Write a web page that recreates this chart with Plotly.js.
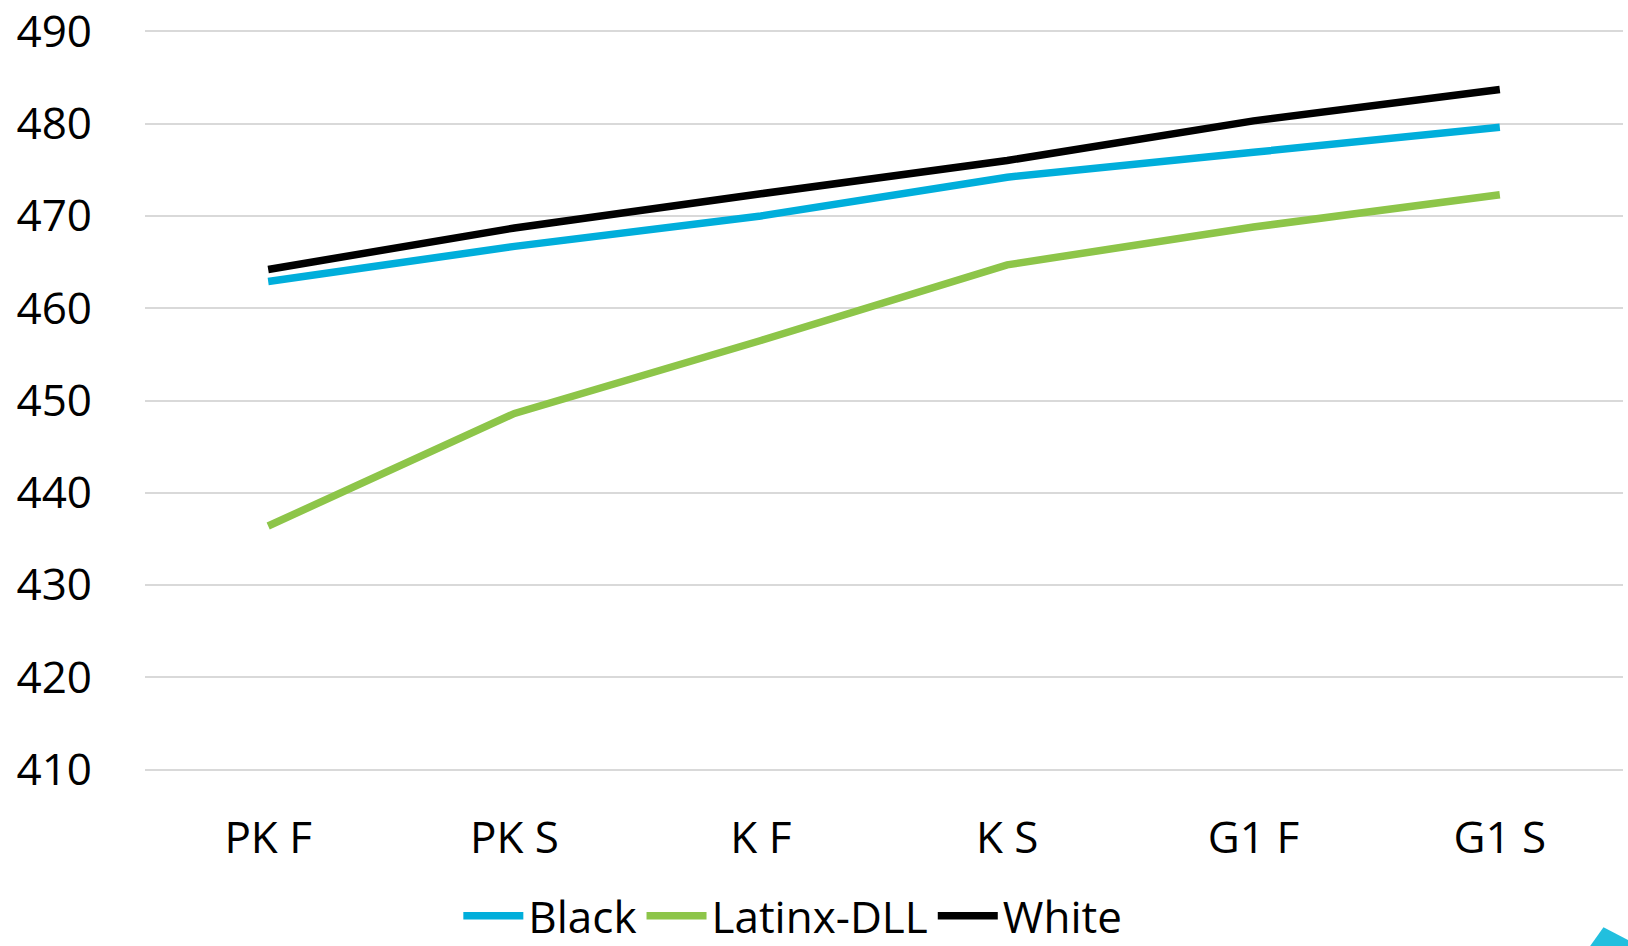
<!DOCTYPE html>
<html>
<head>
<meta charset="utf-8">
<script src="https://cdn.plot.ly/plotly-3.0.1.min.js"></script>
<style>html,body{margin:0;padding:0;background:#fff;}#chart{width:1628px;height:946px;}</style>
</head>
<body>
<div id="chart"></div>
<script>
const categories = ["PK F", "PK S", "K F", "K S", "G1 F", "G1 S"];
const blackValues = [462.9, 466.7, 470.0, 474.2, 476.9, 479.6];
const latinxValues = [436.4, 448.6, 456.5, 464.7, 468.8, 472.3];
const whiteValues = [464.2, 468.7, 472.4, 476.0, 480.3, 483.7];
const seriesNames = ["Black", "Latinx-DLL", "White"];
const yTicks = [410, 420, 430, 440, 450, 460, 470, 480, 490];

const FONT = "Open Sans, Noto Sans, sans-serif";
const colors = ["#00AEDB", "#8DC549", "#000000"];
const values = [blackValues, latinxValues, whiteValues];

const traces = values.map((v, i) => ({
  type: "scatter",
  mode: "lines",
  x: categories,
  y: v,
  name: seriesNames[i],
  line: {color: colors[i], width: 7.5, shape: "linear"},
  hoverinfo: "x+y+name"
}));

const layout = {
  width: 1628,
  height: 946,
  margin: {l: 145, r: 5, t: 30, b: 175, pad: 0, autoexpand: false},
  paper_bgcolor: "#ffffff",
  plot_bgcolor: "#ffffff",
  font: {family: FONT, size: 44, color: "#000000"},
  showlegend: true,
  legend: {
    orientation: "h",
    x: 0.212, xanchor: "left",
    y: -0.196, yanchor: "middle",
    font: {family: FONT, size: 44, color: "#000000"},
    bgcolor: "rgba(0,0,0,0)",
    itemwidth: 60,
    itemclick: false,
    traceorder: "normal"
  },
  xaxis: {
    type: "category",
    range: [-0.5, 5.5],
    showgrid: false,
    zeroline: false,
    showline: false,
    automargin: false,
    ticks: "",
    tickfont: {family: FONT, size: 44, color: "#000000"},
    ticklabelstandoff: 37,
    ticklabeloverflow: "allow",
    fixedrange: true
  },
  yaxis: {
    range: [409.85, 490.15],
    tickvals: yTicks,
    ticktext: yTicks.map(String),
    showgrid: true,
    gridcolor: "#D9D9D9",
    gridwidth: 2,
    zeroline: false,
    showline: false,
    automargin: false,
    ticks: "",
    tickfont: {family: FONT, size: 44, color: "#000000"},
    ticklabelstandoff: 52,
    ticklabeloverflow: "allow",
    fixedrange: true
  },
  shapes: [{
    type: "path",
    xref: "paper", yref: "paper",
    path: "M 0.9767 -0.2392 L 0.9868 -0.2108 L 1.0037 -0.2284 L 1.0037 -0.2392 Z",
    fillcolor: "#22BFDE",
    line: {width: 0},
    layer: "above"
  }]
};

Plotly.newPlot("chart", traces, layout, {displayModeBar: false, staticPlot: true});
</script>
</body>
</html>
